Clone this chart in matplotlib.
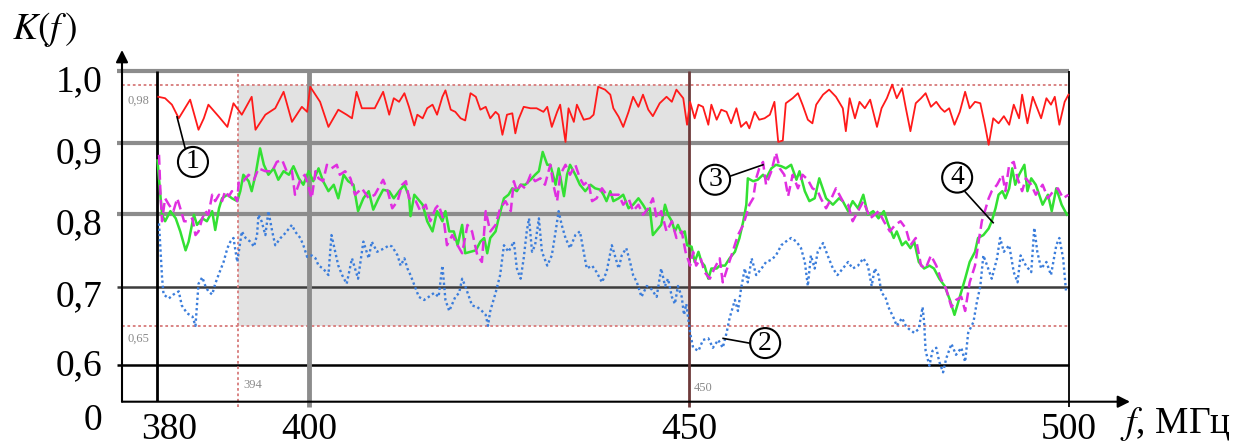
import numpy as np
import matplotlib
matplotlib.use("Agg")
import matplotlib.pyplot as plt
from matplotlib.patches import Circle
from matplotlib.transforms import ScaledTranslation

plt.rcParams['font.family'] = ['Liberation Serif', 'DejaVu Serif']
plt.rcParams['mathtext.fontset'] = 'stix'

# curve 1 (red, solid)
f1 = [380.1, 381.0, 381.9, 382.8, 383.5, 384.3, 385.4, 386.1, 386.7, 388.1, 389.2, 390.0,
      391.1, 392.4, 392.9, 394.2, 395.5, 396.6, 397.7, 399.0, 399.7, 400.1, 401.4, 402.5,
      403.8, 404.9, 405.6, 406.2, 406.9, 408.6, 409.7,
      410.5, 411.1, 411.8, 412.5, 413.1, 413.8, 414.2, 414.9, 415.5, 416.2, 416.8, 417.5,
      417.9, 418.6, 419.2, 419.9, 420.5, 421.2, 421.9, 422.5, 423.2, 423.8, 424.5, 424.9,
      425.4, 426.0, 426.7, 427.1, 427.5, 428.2, 429.1, 429.9, 430.8, 431.3, 431.9, 432.6,
      433.0, 433.7, 434.1, 434.8, 435.2, 436.1, 436.9, 437.4, 438.0, 438.9, 439.6,
      440.0, 440.7, 441.3, 442.0, 442.6, 443.3, 443.9, 444.6, 445.2, 446.1, 447.0, 447.7,
      448.3, 449.2, 449.7, 450.1, 450.7, 451.2, 451.8, 452.5, 452.9, 453.6, 454.2, 454.9,
      455.5, 456.2, 456.8, 457.5, 457.9, 458.6, 459.2, 459.9, 460.6, 461.2, 461.7, 462.3,
      462.7, 463.6, 464.3, 464.9, 465.6, 466.2, 466.7, 467.6, 468.4, 469.3,
      470.2, 470.6, 471.1, 471.8, 472.4, 473.1, 473.8, 474.7, 475.3, 476.0, 476.7, 477.3,
      478.0, 478.5, 479.1, 479.8, 480.5, 481.1, 481.8, 482.5, 483.1, 483.6, 484.2, 484.9,
      485.6, 486.3, 486.9, 487.6, 488.3, 488.9, 489.4, 490.0, 490.7, 491.4, 492.1, 492.7,
      493.4, 493.8, 494.5, 495.2, 495.6, 496.3, 497.0, 497.6, 498.1, 498.7, 499.4, 499.9]
k1 = [0.964, 0.962, 0.953, 0.934, 0.946, 0.960, 0.918, 0.934, 0.953, 0.936, 0.922, 0.955,
      0.939, 0.964, 0.918, 0.939, 0.948, 0.971, 0.929, 0.950, 0.943, 0.978, 0.957, 0.922,
      0.946, 0.939, 0.934, 0.971, 0.948, 0.948, 0.971,
      0.939, 0.962, 0.957, 0.969, 0.950, 0.924, 0.939, 0.934, 0.948, 0.953, 0.939, 0.964,
      0.973, 0.946, 0.943, 0.934, 0.931, 0.969, 0.964, 0.946, 0.950, 0.934, 0.943, 0.939,
      0.911, 0.939, 0.941, 0.913, 0.932, 0.950, 0.948, 0.948, 0.943, 0.950, 0.922, 0.943,
      0.953, 0.901, 0.948, 0.929, 0.953, 0.932, 0.934, 0.939, 0.978, 0.974, 0.967,
      0.948, 0.936, 0.922, 0.943, 0.964, 0.950, 0.967, 0.946, 0.937, 0.955, 0.964, 0.957,
      0.974, 0.962, 0.925, 0.957, 0.934, 0.953, 0.950, 0.925, 0.953, 0.932, 0.946, 0.943,
      0.927, 0.948, 0.922, 0.929, 0.920, 0.943, 0.932, 0.934, 0.939, 0.957, 0.901, 0.903,
      0.955, 0.962, 0.969, 0.953, 0.932, 0.927, 0.953, 0.967, 0.974, 0.964,
      0.948, 0.916, 0.962, 0.934, 0.957, 0.948, 0.960, 0.922, 0.948, 0.962, 0.981, 0.962,
      0.976, 0.948, 0.916, 0.955, 0.962, 0.969, 0.950, 0.957, 0.948, 0.943, 0.948, 0.925,
      0.943, 0.971, 0.948, 0.957, 0.955, 0.925, 0.897, 0.934, 0.927, 0.937, 0.925, 0.953,
      0.934, 0.967, 0.927, 0.964, 0.953, 0.934, 0.962, 0.953, 0.964, 0.925, 0.957, 0.967]

# curve 2 (blue, dotted)
f2 = [380.2, 380.4, 380.6, 380.8, 381.5, 382.1, 382.8, 383.2, 383.9, 384.6, 385.0, 385.2,
      385.4, 385.9, 386.3, 386.7, 387.2, 387.6, 388.1, 388.7, 389.2, 389.6, 390.0, 390.5,
      390.7, 391.1, 391.6, 392.2, 392.7, 393.1, 393.3, 393.7, 394.2, 394.6, 395.1, 395.5,
      396.2, 396.6, 397.0, 397.7, 398.1, 398.8, 399.2, 399.7, 400.3, 400.8, 401.2, 401.8,
      402.5, 402.9, 403.4, 403.8, 404.3, 404.9, 405.6, 406.0, 406.4, 407.1, 407.8, 408.2,
      408.9, 409.9,
      410.5, 410.9, 411.6, 412.0, 412.5, 412.9, 413.3, 414.0, 414.4, 415.1, 415.7, 416.4,
      417.0, 417.5, 417.7, 417.9, 418.4, 418.8, 419.2, 419.7, 420.1, 420.5, 421.0, 421.4,
      422.1, 422.7, 423.2, 423.5, 423.8, 424.5, 425.1, 425.6, 426.2, 426.9, 427.3, 427.8,
      428.2, 428.6, 428.9, 429.3, 429.7, 430.2, 430.6, 431.3, 431.9, 432.4, 432.8, 433.2,
      433.7, 434.3, 435.0, 435.6, 436.1, 436.5, 437.2, 437.8, 438.5, 439.1, 439.8,
      440.7, 441.1, 441.7, 442.2, 442.6, 443.1, 443.7, 444.4, 445.0, 445.7, 446.3, 446.8,
      447.2, 447.7, 448.1, 448.5, 449.0, 449.3, 449.6, 450.1, 450.5, 451.2, 451.8, 452.5,
      453.1, 453.8, 454.4, 454.9, 455.3, 456.0, 456.4, 456.8, 457.3, 457.7, 458.2, 458.8,
      459.5, 460.1, 460.8, 461.4, 462.1, 462.7, 463.4, 464.1, 464.7, 465.2, 465.6, 466.0,
      466.5, 466.9, 467.6, 468.2, 468.9, 469.5,
      470.9, 471.5, 472.2, 472.9, 473.5, 474.0, 474.4, 474.9, 475.3, 475.8, 476.2, 476.9,
      477.3, 478.0, 478.5, 478.9, 479.6, 480.2, 480.7, 480.9, 481.1, 481.6, 482.0, 482.5,
      482.9, 483.4, 483.8, 484.5, 485.1, 485.8, 486.3, 486.7, 487.4, 487.8, 488.3, 488.7,
      489.2, 489.8, 490.5, 490.9, 491.4, 492.1, 492.7, 493.2, 493.6, 494.3, 495.0, 495.4,
      495.8, 496.3, 497.0, 497.6, 498.3, 498.7, 499.2, 499.6]
k2 = [0.787, 0.750, 0.713, 0.690, 0.685, 0.690, 0.694, 0.676, 0.666, 0.662, 0.650, 0.676,
      0.704, 0.713, 0.701, 0.694, 0.690, 0.704, 0.718, 0.734, 0.753, 0.762, 0.767, 0.734,
      0.748, 0.776, 0.767, 0.762, 0.755, 0.771, 0.799, 0.790, 0.771, 0.804, 0.776, 0.757,
      0.767, 0.771, 0.776, 0.785, 0.776, 0.767, 0.757, 0.741, 0.743, 0.739, 0.729, 0.725,
      0.716, 0.771, 0.748, 0.729, 0.716, 0.704, 0.739, 0.725, 0.711, 0.762, 0.739, 0.762,
      0.748, 0.753,
      0.757, 0.755, 0.743, 0.729, 0.739, 0.725, 0.716, 0.697, 0.687, 0.683, 0.687, 0.692,
      0.687, 0.729, 0.706, 0.683, 0.669, 0.678, 0.687, 0.692, 0.711, 0.701, 0.687, 0.676,
      0.674, 0.669, 0.664, 0.650, 0.669, 0.692, 0.716, 0.757, 0.748, 0.762, 0.725, 0.711,
      0.739, 0.776, 0.794, 0.748, 0.757, 0.794, 0.748, 0.729, 0.743, 0.776, 0.804, 0.785,
      0.767, 0.753, 0.771, 0.776, 0.748, 0.725, 0.729, 0.720, 0.706, 0.720, 0.757,
      0.725, 0.743, 0.753, 0.734, 0.716, 0.706, 0.687, 0.701, 0.697, 0.687, 0.725, 0.701,
      0.711, 0.687, 0.678, 0.701, 0.687, 0.664, 0.678, 0.641, 0.622, 0.618, 0.632, 0.634,
      0.622, 0.632, 0.622, 0.641, 0.660, 0.683, 0.669, 0.697, 0.725, 0.706, 0.739, 0.716,
      0.725, 0.734, 0.737, 0.743, 0.757, 0.762, 0.767, 0.762, 0.753, 0.734, 0.701, 0.743,
      0.725, 0.748, 0.760, 0.743, 0.725, 0.716,
      0.734, 0.725, 0.729, 0.739, 0.729, 0.701, 0.725, 0.716, 0.692, 0.687, 0.674, 0.660,
      0.650, 0.660, 0.650, 0.646, 0.641, 0.646, 0.674, 0.655, 0.618, 0.599, 0.618, 0.622,
      0.604, 0.590, 0.608, 0.627, 0.613, 0.622, 0.604, 0.641, 0.655, 0.678, 0.701, 0.743,
      0.729, 0.711, 0.739, 0.767, 0.748, 0.757, 0.720, 0.706, 0.743, 0.729, 0.720, 0.781,
      0.748, 0.725, 0.734, 0.716, 0.757, 0.767, 0.739, 0.692]

# curve 3 (magenta, dashed)
f3 = [380.2, 380.4, 380.6, 381.0, 381.5, 382.1, 382.6, 383.0, 383.5, 384.1, 384.6, 385.0,
      385.4, 385.9, 386.3, 386.7, 387.2, 387.6, 388.1, 388.5, 388.9, 389.4, 389.8, 390.5,
      390.7, 391.3, 392.0, 392.7, 393.3, 394.2, 395.1, 395.7, 396.4, 397.0, 397.7, 398.1,
      398.8, 399.4, 400.3, 400.8, 401.2, 401.8, 402.3, 402.9, 403.6, 404.0, 404.7, 405.4,
      406.0, 406.9, 407.8, 408.6, 409.7,
      410.3, 410.9, 411.6, 412.2, 412.7, 413.1, 414.0, 414.6, 415.3, 415.9, 416.6, 417.0,
      417.7, 418.1, 418.8, 419.5, 420.1, 420.8, 421.4, 422.1, 422.7, 423.2, 423.8, 424.5,
      425.1, 425.8, 426.5, 426.9, 427.3, 427.8, 428.4, 429.1, 429.7, 430.4, 431.0, 431.7,
      432.1, 432.6, 433.0, 433.7, 434.3, 435.0, 435.6, 436.1, 436.7, 437.2, 437.8, 438.5,
      439.1, 440.0,
      440.7, 441.3, 442.0, 442.6, 443.3, 443.9, 444.6, 445.2, 445.7, 446.3, 447.0, 447.7,
      448.3, 449.0, 449.5, 450.1, 450.5, 450.9, 451.5, 452.0, 452.7, 453.3, 454.0, 454.4,
      455.1, 455.7, 456.4, 457.1, 457.5, 457.9, 458.4, 458.8, 459.2, 459.7, 460.1, 460.8,
      461.4, 461.9, 462.5, 463.0, 463.6, 464.3, 464.9, 465.6, 466.2, 466.9, 467.3, 468.0,
      468.7, 469.3, 470.2,
      470.9, 471.5, 472.2, 472.9, 473.8, 474.4, 474.9, 475.6, 476.4, 477.1, 477.8, 478.5,
      479.1, 479.8, 480.5, 481.1, 481.8, 482.5, 483.1, 483.8, 484.5, 485.1, 485.8, 486.3,
      486.9, 487.6, 488.0, 488.5, 488.9, 489.4, 489.8, 490.5, 491.2, 491.6, 492.1, 492.7,
      493.2, 493.8, 494.3, 495.0, 495.6, 496.5, 497.2, 497.9, 498.5, 499.2, 499.9]
k3 = [0.883, 0.827, 0.790, 0.822, 0.813, 0.804, 0.822, 0.808, 0.790, 0.790, 0.794, 0.771,
      0.776, 0.794, 0.804, 0.799, 0.827, 0.818, 0.827, 0.818, 0.832, 0.825, 0.832, 0.818,
      0.846, 0.846, 0.855, 0.848, 0.864, 0.860, 0.860, 0.873, 0.876, 0.860, 0.860, 0.827,
      0.848, 0.855, 0.822, 0.860, 0.850, 0.846, 0.869, 0.864, 0.869, 0.855, 0.860, 0.850,
      0.827, 0.836, 0.822, 0.827, 0.848,
      0.832, 0.808, 0.818, 0.841, 0.846, 0.822, 0.818, 0.804, 0.813, 0.790, 0.808, 0.813,
      0.790, 0.757, 0.771, 0.757, 0.746, 0.785, 0.776, 0.743, 0.734, 0.804, 0.776, 0.785,
      0.808, 0.818, 0.804, 0.846, 0.832, 0.841, 0.836, 0.855, 0.846, 0.850, 0.841, 0.869,
      0.841, 0.818, 0.855, 0.869, 0.855, 0.869, 0.850, 0.841, 0.846, 0.818, 0.822, 0.836,
      0.827, 0.827,
      0.827, 0.813, 0.822, 0.804, 0.813, 0.799, 0.808, 0.822, 0.794, 0.804, 0.776, 0.790,
      0.767, 0.776, 0.748, 0.729, 0.748, 0.729, 0.739, 0.720, 0.711, 0.725, 0.739, 0.706,
      0.729, 0.748, 0.771, 0.785, 0.799, 0.813, 0.822, 0.850, 0.864, 0.873, 0.841, 0.860,
      0.886, 0.864, 0.855, 0.825, 0.855, 0.836, 0.855, 0.848, 0.836, 0.832, 0.822, 0.808,
      0.822, 0.836, 0.818,
      0.813, 0.790, 0.804, 0.818, 0.794, 0.799, 0.804, 0.790, 0.776, 0.785, 0.790, 0.780,
      0.757, 0.767, 0.729, 0.725, 0.743, 0.729, 0.711, 0.697, 0.674, 0.683, 0.687, 0.669,
      0.706, 0.729, 0.757, 0.790, 0.804, 0.822, 0.832, 0.841, 0.855, 0.832, 0.869, 0.873,
      0.850, 0.832, 0.850, 0.841, 0.827, 0.841, 0.822, 0.832, 0.836, 0.822, 0.827]

# curve 4 (green, solid)
f4 = [380.0, 380.6, 381.0, 381.7, 382.4, 383.0, 383.7, 384.1, 384.8, 385.2, 385.9, 386.5,
      387.2, 387.6, 388.1, 388.5, 389.2, 389.8, 390.5, 390.9, 391.3, 392.0, 392.4, 392.9,
      393.5, 394.0, 394.6, 395.3, 395.9, 396.6, 397.3, 397.9, 398.6, 399.2, 399.9, 400.5,
      401.2, 401.8, 402.5, 403.2, 403.8, 404.5, 405.1, 405.8, 406.4, 407.1, 407.8, 408.4,
      409.1, 409.7,
      410.5, 411.1, 411.8, 412.5, 413.1, 413.3, 413.8, 414.2, 414.9, 415.5, 416.2, 416.8,
      417.5, 417.9, 418.4, 419.0, 419.5, 420.1, 420.5, 421.2, 421.9, 422.5, 423.0, 423.4,
      423.8, 424.5, 424.9, 425.6, 426.2, 426.7, 427.3, 427.8, 428.4, 429.1, 429.7, 430.2,
      430.7, 431.3, 431.7, 432.4, 432.8, 433.5, 433.9, 434.3, 435.0, 435.6, 436.3, 437.0,
      437.6, 438.3, 438.7, 439.1, 439.6,
      440.0, 440.7, 441.3, 442.0, 442.6, 443.3, 443.9, 444.4, 444.8, 445.2, 445.9, 446.3,
      446.8, 447.2, 447.7, 448.1, 448.5, 449.0, 449.4, 449.7, 450.3, 450.7, 451.2, 451.6,
      452.0, 452.5, 452.9, 453.6, 454.0, 454.7, 455.3, 456.0, 456.6, 457.1, 457.5, 457.7,
      458.4, 459.0, 459.7, 460.1, 460.8, 461.4, 462.1, 462.7, 463.4, 464.1, 464.5, 465.2,
      465.8, 466.5, 467.1, 468.0, 468.9, 469.7,
      470.2, 470.9, 471.5, 472.2, 472.9, 473.5, 474.2, 474.9, 475.6, 476.2, 476.9, 477.3,
      478.0, 478.5, 479.1, 479.6, 480.2, 480.9, 481.6, 482.2, 482.9, 483.6, 484.3, 484.9,
      485.6, 486.3, 486.9, 487.6, 488.0, 488.7, 489.4, 489.8, 490.3, 490.7, 491.2, 491.6,
      492.1, 492.5, 492.9, 493.4, 494.1, 494.5, 495.0, 495.6, 496.5, 497.2, 497.7, 498.3,
      499.0, 499.7]
k4 = [0.875, 0.799, 0.790, 0.804, 0.794, 0.776, 0.750, 0.762, 0.799, 0.785, 0.794, 0.790,
      0.804, 0.778, 0.808, 0.822, 0.827, 0.822, 0.818, 0.832, 0.855, 0.846, 0.832, 0.855,
      0.892, 0.869, 0.855, 0.864, 0.848, 0.860, 0.855, 0.867, 0.850, 0.841, 0.860, 0.846,
      0.864, 0.846, 0.832, 0.841, 0.822, 0.855, 0.846, 0.841, 0.804, 0.822, 0.832, 0.806,
      0.822, 0.834,
      0.832, 0.822, 0.832, 0.841, 0.825, 0.797, 0.827, 0.822, 0.813, 0.790, 0.776, 0.804,
      0.790, 0.804, 0.776, 0.776, 0.757, 0.785, 0.746, 0.748, 0.750, 0.762, 0.767, 0.746,
      0.767, 0.776, 0.794, 0.822, 0.827, 0.836, 0.832, 0.841, 0.841, 0.848, 0.855, 0.860,
      0.887, 0.869, 0.869, 0.841, 0.864, 0.825, 0.855, 0.869, 0.855, 0.841, 0.832, 0.841,
      0.836, 0.834, 0.827, 0.818, 0.832,
      0.818, 0.822, 0.827, 0.808, 0.813, 0.822, 0.813, 0.804, 0.808, 0.771, 0.780, 0.785,
      0.813, 0.799, 0.790, 0.776, 0.785, 0.773, 0.776, 0.757, 0.755, 0.734, 0.748, 0.734,
      0.729, 0.711, 0.725, 0.725, 0.729, 0.729, 0.739, 0.748, 0.767, 0.790, 0.813, 0.850,
      0.846, 0.848, 0.855, 0.850, 0.864, 0.869, 0.867, 0.864, 0.869, 0.848, 0.860, 0.832,
      0.818, 0.822, 0.850, 0.822, 0.813, 0.822,
      0.818, 0.804, 0.818, 0.808, 0.827, 0.799, 0.804, 0.794, 0.804, 0.785, 0.767, 0.776,
      0.757, 0.762, 0.753, 0.762, 0.734, 0.725, 0.729, 0.725, 0.711, 0.701, 0.683, 0.664,
      0.687, 0.711, 0.734, 0.748, 0.767, 0.771, 0.780, 0.790, 0.808, 0.827, 0.832, 0.822,
      0.836, 0.864, 0.841, 0.855, 0.869, 0.832, 0.850, 0.841, 0.813, 0.827, 0.804, 0.836,
      0.813, 0.799]

y_ticks = [0.55, 0.6, 0.7, 0.8, 0.9, 1.0]
y_labels = ['0', '0,6', '0,7', '0,8', '0,9', '1,0']
x_ticks = [380, 400, 450, 500]
x_labels = ['380', '400', '450', '500']

# broken y axis: value -> pixel height of the original drawing
y_vals = np.array([0.50, 0.55, 0.6, 0.7, 0.8, 0.9, 1.0, 1.06])
y_pix = -np.array([438.4, 401.7, 365.0, 286.7, 214.0, 142.7, 71.0, 27.0])


def fwd(v):
    return np.interp(v, y_vals, y_pix)


def inv(p):
    return np.interp(p, y_pix, y_vals)


fig = plt.figure(figsize=(12.43, 4.46), dpi=100)
ax = fig.add_axes([122 / 1243, 44.3 / 446, 1008 / 1243, 351.7 / 446])
ax.set_yscale('function', functions=(fwd, inv))
x0, x1 = 375.33, 508.0
y0, y1 = 0.55, 1.0286
ax.set_xlim(x0, x1)
ax.set_ylim(y0, y1)
for s in ax.spines.values():
    s.set_visible(False)

red_dot = '#d77a7a'
ax.fill_between([390.6, 450], 0.65, 0.98, color='#e2e2e2', lw=0, zorder=0)
ax.hlines([1.0, 0.9, 0.8], 374.7, 500, colors='#8c8c8c', lw=3, zorder=1, clip_on=False)
ax.hlines(0.7, 374.7, 500, colors='#3c3c3c', lw=1.8, zorder=1, clip_on=False)
ax.hlines(0.6, 374.7, 500, colors='black', lw=1.8, zorder=1, clip_on=False)
ax.hlines([0.98, 0.65], x0, 500, colors=red_dot, linestyles=(0, (1.5, 1.5)), lw=1.3, zorder=1)
ax.vlines(380, y0, 1.0, colors='black', lw=2, zorder=1)
ax.vlines(400, 0.543, 1.0, colors='#8c8c8c', lw=3.5, zorder=1, clip_on=False)
ax.vlines(450, 0.543, 1.0, colors='#6e3a3a', lw=2, zorder=1, clip_on=False)
ax.vlines(500, 0.543, 1.0, colors='black', lw=1.3, zorder=1, clip_on=False)
ax.vlines(390.6, 0.543, 1.0, colors=red_dot, linestyles=(0, (1.5, 1.5)), lw=1.3, zorder=1,
          clip_on=False)

ax.plot(f2, k2, color='#3b7ddb', lw=1.7, ls=(0, (1, 1.2)), zorder=3)
ax.plot(f4, k4, color='#33e033', lw=1.8, zorder=3)
ax.plot(f3, k3, color='#e02ee0', lw=1.8, ls=(0, (4, 2)), zorder=4)
ax.plot(f1, k1, color='#ff1a1a', lw=1.3, zorder=4)

# axes with arrows
arrow = dict(arrowstyle='-|>', color='black', lw=1.5, mutation_scale=18, shrinkA=0, shrinkB=0)
ax.annotate('', xy=(x0, y1), xytext=(x0, y0), arrowprops=arrow, annotation_clip=False)
ax.annotate('', xy=(x1, y0), xytext=(x0, y0), arrowprops=arrow, annotation_clip=False)

ax.set_yticks(y_ticks, y_labels, fontsize=27)
ax.set_xticks(x_ticks, x_labels, fontsize=27)
ax.tick_params(axis='y', length=0, pad=14)
ax.tick_params(axis='x', length=0, pad=8)
ax.minorticks_off()
y_shift = [15, -3, 6, 7, 7, 7]
for lbl, d in zip(ax.get_yticklabels(), y_shift):
    lbl.set_transform(lbl.get_transform() + ScaledTranslation(0, -d / 100, fig.dpi_scale_trans))
xl = ax.get_xticklabels()[0]
xl.set_transform(xl.get_transform() + ScaledTranslation(0.12, 0, fig.dpi_scale_trans))

small = dict(fontsize=9, color='#8a8a8a')
ax.text(376.0, 0.958, '0,98', va='center', **small)
ax.text(376.0, 0.633, '0,65', va='center', **small)
ax.text(391.3, 0.573, '394', va='center', **small)
ax.text(450.6, 0.568, '450', va='center', **small)

fig.text(12 / 1243, 1 - 10 / 446, r'$K(f\,)$', fontsize=27, va='top', ha='left')
fig.text(1120 / 1243, 13 / 446, r'$f$, МГц', fontsize=27, va='baseline', ha='left')

# numbered callouts
callouts = [('1', 384.67, 0.873, (383.62, 0.893), (382.57, 0.936)),
            ('2', 459.98, 0.628, (457.87, 0.628), (454.45, 0.634)),
            ('3', 453.39, 0.848, (455.36, 0.853), (459.7, 0.869)),
            ('4', 485.25, 0.851, (486.31, 0.831), (489.99, 0.788))]
for num, cf, cv, p_a, p_b in callouts:
    ax.plot([p_a[0], p_b[0]], [p_a[1], p_b[1]], color='black', lw=1.2, zorder=5)
    circ = Circle((0, 0), 0.15, fc='white', ec='black', lw=1.5, zorder=6,
                  transform=fig.dpi_scale_trans + ScaledTranslation(cf, cv, ax.transData))
    ax.add_patch(circ)
    ax.text(cf, cv, num, fontsize=20, ha='center', va='center', zorder=7)

fig.savefig('out.png', dpi=100)
